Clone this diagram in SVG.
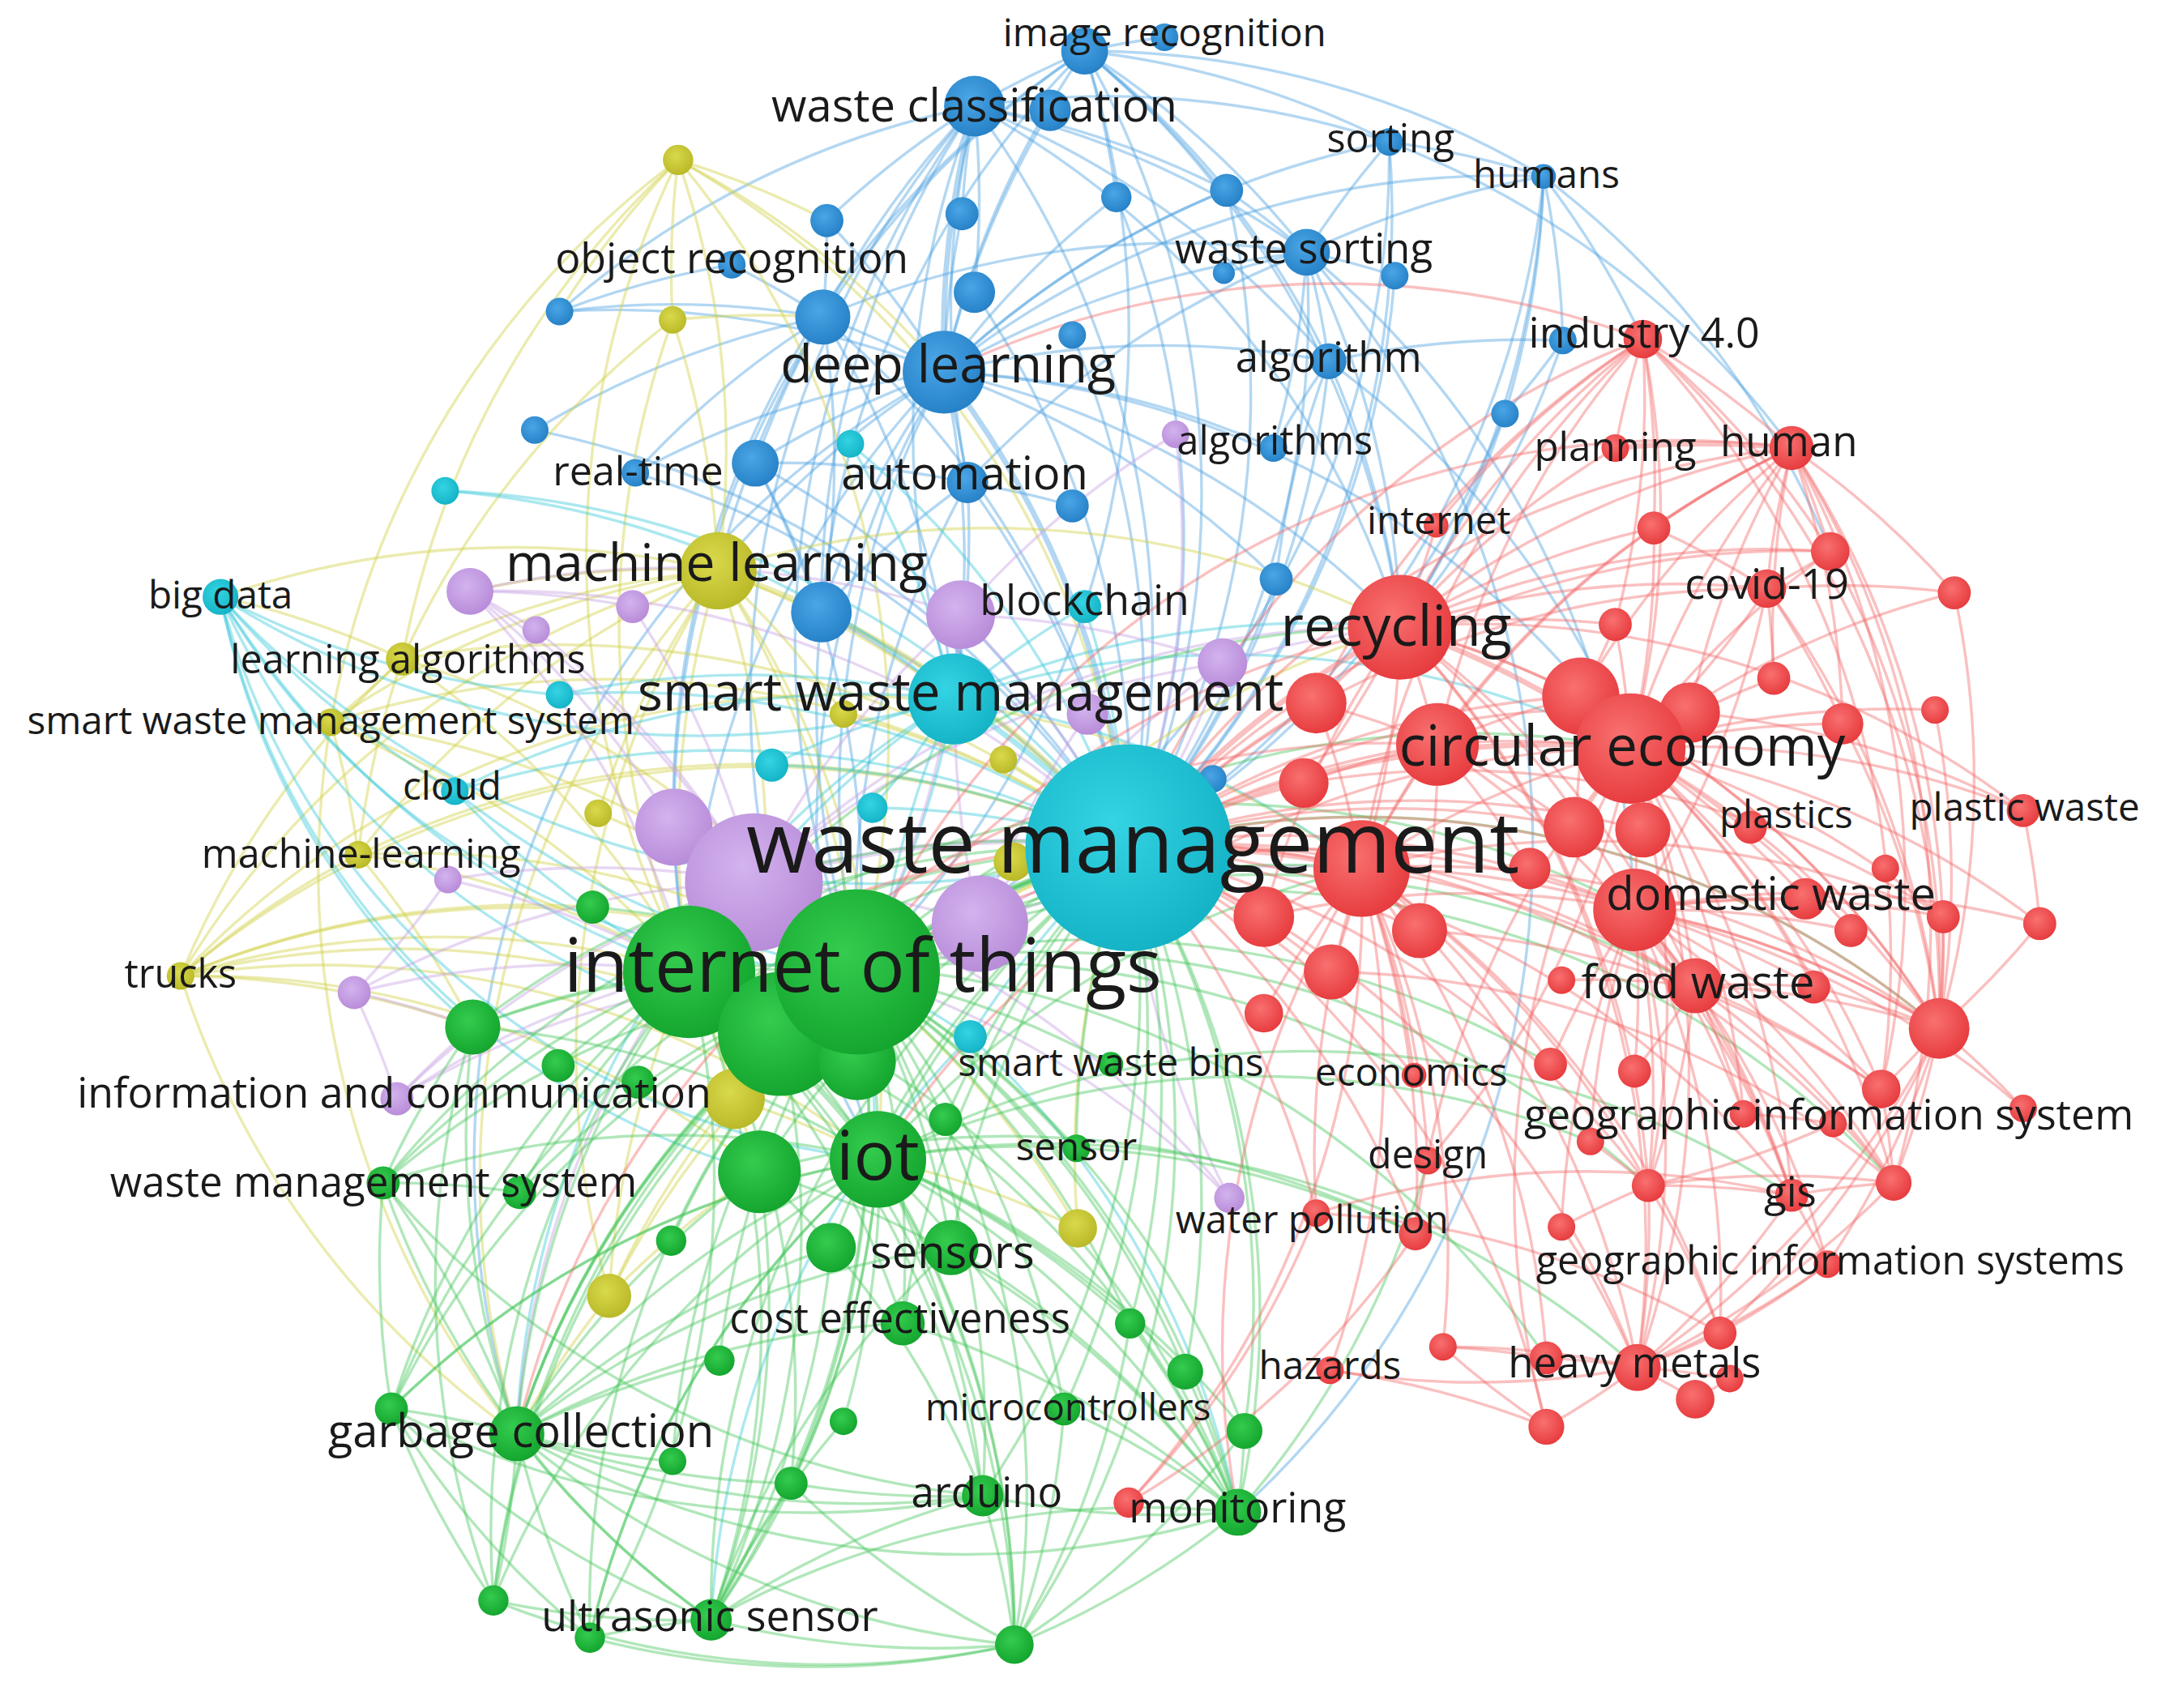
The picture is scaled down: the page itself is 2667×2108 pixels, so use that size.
<svg xmlns="http://www.w3.org/2000/svg" width="2667" height="2108" viewBox="0 0 2667 2108">
<defs>
<radialGradient id="gr" cx="42%" cy="38%" r="65%"><stop offset="0" stop-color="#f97070"/><stop offset="1" stop-color="#e63a3d"/></radialGradient>
<radialGradient id="gg" cx="42%" cy="38%" r="65%"><stop offset="0" stop-color="#34cc4f"/><stop offset="1" stop-color="#13a42d"/></radialGradient>
<radialGradient id="gb" cx="42%" cy="38%" r="65%"><stop offset="0" stop-color="#4aa6e6"/><stop offset="1" stop-color="#2580c6"/></radialGradient>
<radialGradient id="gc" cx="42%" cy="38%" r="65%"><stop offset="0" stop-color="#35d4e4"/><stop offset="1" stop-color="#13b2c5"/></radialGradient>
<radialGradient id="gp" cx="42%" cy="38%" r="65%"><stop offset="0" stop-color="#d3b3ee"/><stop offset="1" stop-color="#b78bd8"/></radialGradient>
<radialGradient id="gy" cx="42%" cy="38%" r="65%"><stop offset="0" stop-color="#d9d94c"/><stop offset="1" stop-color="#b8b827"/></radialGradient>
</defs>
<style>
.edges path{fill:none;stroke-width:2;stroke-opacity:.42}
.edges path.t{stroke-width:4}
.er path{stroke:#f36868}.eg path{stroke:#46c55b}.eb path{stroke:#4a9fe0}.ec path{stroke:#36c8d9}.ep path{stroke:#c69fe2}.ey path{stroke:#cfcf40}
.nr{fill:url(#gr)}.ng{fill:url(#gg)}.nb{fill:url(#gb)}.nc{fill:url(#gc)}.np{fill:url(#gp)}.ny{fill:url(#gy)}
.labels text{font-family:"Open Sans","Noto Sans","Liberation Sans",sans-serif;fill:#1a1a1a;text-anchor:middle}
</style>
<rect width="2667" height="2108" fill="#ffffff"/>
<g transform="scale(1.7009,1.7014)">
<g id="connectors" class="edges">
<g class="eb">
<path d="M685 270A650 650 0 0 1 787 37"/><path class="t" d="M685 270A650 650 0 0 1 707 77"/><path d="M685 270A650 650 0 0 1 762 80"/><path d="M685 270A650 650 0 0 1 1008 103"/><path d="M685 270A650 650 0 0 1 948 183"/><path d="M685 270A650 650 0 0 1 890 138"/><path d="M685 270A650 650 0 0 1 810 143"/><path d="M685 270A650 650 0 0 1 698 155"/><path d="M600 160A650 650 0 0 1 685 270"/><path d="M597 230A650 650 0 0 1 685 270"/><path d="M685 270A650 650 0 0 1 964 262"/><path d="M685 270A650 650 0 0 1 924 325"/><path d="M406 226A650 650 0 0 1 685 270"/><path d="M461 343A650 650 0 0 1 685 270"/><path d="M548 336A650 650 0 0 1 685 270"/><path d="M685 270A650 650 0 0 1 702 350"/><path d="M596 444A650 650 0 0 1 685 270"/><path d="M685 270A650 650 0 0 1 926 420"/><path class="t" d="M685 270A650 650 0 0 1 819 615"/><path d="M685 270A650 650 0 0 1 692 507"/><path d="M622 705A650 650 0 0 1 685 270"/><path d="M685 270A650 650 0 0 1 1120 128"/><path d="M685 270A650 650 0 0 1 1016 455"/><path d="M521 414A650 650 0 0 1 685 270"/><path d="M637 841A650 650 0 0 1 685 270"/><path d="M375 1040A650 650 0 0 1 685 270"/><path d="M685 270A650 650 0 0 0 500 705"/><path d="M685 270A650 650 0 0 1 1183 543"/>
<path d="M707 77A650 650 0 0 1 787 37"/><path d="M707 77A650 650 0 0 1 948 183"/><path d="M600 160A650 650 0 0 1 707 77"/><path d="M597 230A650 650 0 0 1 707 77"/><path d="M698 155A650 650 0 0 1 707 77"/><path d="M707 77A650 650 0 0 1 890 138"/><path d="M707 77A650 650 0 0 1 964 262"/><path d="M596 444A650 650 0 0 1 707 77"/><path d="M702 350A650 650 0 0 1 707 77"/><path d="M707 77A650 650 0 0 1 819 615"/><path d="M692 507A650 650 0 0 1 707 77"/><path d="M707 77A650 650 0 0 1 1008 103"/><path d="M707 77A650 650 0 0 1 707 212"/><path d="M622 705A650 650 0 0 1 707 77"/><path d="M637 841A650 650 0 0 1 707 77"/><path d="M707 77A650 650 0 0 1 1016 455"/><path d="M406 226A650 650 0 0 1 707 77"/>
<path d="M787 37A650 650 0 0 1 948 183"/><path d="M787 37A650 650 0 0 1 890 138"/><path d="M787 37A650 650 0 0 1 964 262"/><path d="M597 230A650 650 0 0 1 787 37"/><path d="M596 444A650 650 0 0 1 787 37"/><path d="M787 37A650 650 0 0 1 819 615"/><path d="M787 37A650 650 0 0 1 1120 128"/><path d="M787 37A650 650 0 0 1 1008 103"/><path d="M787 37A650 650 0 0 1 810 143"/><path d="M500 705A650 650 0 0 1 787 37"/><path d="M787 37A650 650 0 0 1 845 27"/><path d="M787 37A650 650 0 0 1 1016 455"/>
<path d="M948 183A650 650 0 0 1 1008 103"/><path d="M948 183A650 650 0 0 1 1012 200"/><path d="M888 198A650 650 0 0 1 948 183"/><path d="M948 183A650 650 0 0 1 964 262"/><path d="M890 138A650 650 0 0 1 948 183"/><path d="M948 183A650 650 0 0 1 1120 128"/><path d="M597 230A650 650 0 0 1 948 183"/><path d="M702 350A650 650 0 0 1 948 183"/><path d="M948 183A650 650 0 0 1 819 615"/><path d="M948 183A650 650 0 0 1 1016 455"/><path d="M948 183A650 650 0 0 1 924 325"/><path d="M948 183A650 650 0 0 1 1186 660"/>
<path d="M406 226A650 650 0 0 1 597 230"/><path d="M406 226A650 650 0 0 1 531 192"/><path d="M531 192A650 650 0 0 1 597 230"/><path d="M388 312A650 650 0 0 1 597 230"/><path d="M461 343A650 650 0 0 1 597 230"/><path d="M548 336A650 650 0 0 1 597 230"/><path d="M597 230A650 650 0 0 1 596 444"/><path d="M597 230A650 650 0 0 1 819 615"/><path d="M597 230A650 650 0 0 1 692 507"/><path d="M600 160A650 650 0 0 1 597 230"/><path d="M521 414A650 650 0 0 1 597 230"/><path d="M500 705A650 650 0 0 1 597 230"/>
<path d="M964 262A650 650 0 0 1 1134 247"/><path d="M924 325A650 650 0 0 1 964 262"/><path d="M964 262A650 650 0 0 1 819 615"/><path d="M926 420A650 650 0 0 1 964 262"/><path d="M964 262A650 650 0 0 1 1016 455"/><path d="M964 262A650 650 0 0 1 1183 543"/>
<path d="M596 444A650 650 0 0 1 819 615"/><path d="M596 444A650 650 0 0 1 692 507"/><path d="M622 705A650 650 0 0 1 596 444"/><path d="M596 444A650 650 0 0 1 702 350"/><path d="M548 336A650 650 0 0 1 596 444"/>
<path d="M702 350A650 650 0 0 1 778 367"/><path d="M702 350A650 650 0 0 1 819 615"/><path d="M702 350A650 650 0 0 1 692 507"/><path d="M548 336A650 650 0 0 1 702 350"/><path d="M702 350A650 650 0 0 0 622 705"/>
<path d="M1120 128A650 650 0 0 1 1134 247"/><path d="M1120 128A650 650 0 0 1 1092 300"/><path d="M1120 128A650 650 0 0 1 1192 246"/><path d="M1008 103A650 650 0 0 1 1120 128"/><path d="M1120 128A650 650 0 0 1 1328 400"/><path d="M1120 128A650 650 0 0 1 1016 455"/>
<path d="M1134 247A650 650 0 0 1 1092 300"/><path d="M1092 300A650 650 0 0 1 819 615"/><path d="M1092 300A650 650 0 0 1 1016 455"/><path d="M1134 247A650 650 0 0 1 1016 455"/>
<path d="M1008 103A650 650 0 0 1 1300 325"/><path d="M810 143A650 650 0 0 1 819 615"/><path d="M890 138A650 650 0 0 1 819 615"/><path d="M1008 103A650 650 0 0 1 819 615"/><path d="M1012 200A650 650 0 0 1 819 615"/><path d="M926 420A650 650 0 0 1 819 615"/><path d="M778 243A650 650 0 0 1 819 615"/><path d="M707 212A650 650 0 0 1 819 615"/><path d="M1120 128A650 650 0 0 1 819 615"/><path d="M948 183A650 650 0 0 1 898 1097"/><path d="M787 37A650 650 0 0 1 622 705"/><path d="M1008 103A650 650 0 0 1 622 705"/><path d="M388 312A650 650 0 0 1 819 615"/><path d="M461 343A650 650 0 0 1 819 615"/><path d="M548 336A650 650 0 0 1 819 615"/><path d="M548 336A650 650 0 0 1 622 705"/>
</g>
<g class="ey">
<path d="M488 232A650 650 0 0 1 492 116"/><path d="M492 116A650 650 0 0 1 521 414"/><path d="M292 478A650 650 0 0 1 492 116"/><path d="M240 524A650 650 0 0 1 492 116"/><path d="M492 116A650 650 0 0 1 600 160"/><path d="M492 116A650 650 0 0 1 685 270"/><path d="M492 116A650 650 0 0 1 819 615"/><path d="M500 705A650 650 0 0 1 492 116"/><path d="M406 226A650 650 0 0 1 492 116"/><path d="M492 116A650 650 0 0 1 622 705"/><path d="M488 232A650 650 0 0 1 521 414"/><path d="M292 478A650 650 0 0 1 488 232"/><path d="M488 232A650 650 0 0 1 597 230"/><path d="M500 705A650 650 0 0 1 488 232"/>
<path d="M292 478A650 650 0 0 1 521 414"/><path d="M240 524A650 650 0 0 1 521 414"/><path d="M521 414A650 650 0 0 1 612 518"/><path d="M434 590A650 650 0 0 1 521 414"/><path d="M260 620A650 650 0 0 1 521 414"/><path d="M131 708A650 650 0 0 1 521 414"/><path d="M521 414A650 650 0 0 1 533 797"/><path class="t" d="M521 414A650 650 0 0 1 819 615"/><path d="M521 414A650 650 0 0 1 622 705"/><path d="M500 705A650 650 0 0 1 521 414"/><path d="M341 429A650 650 0 0 1 521 414"/><path d="M160 433A650 650 0 0 1 521 414"/><path d="M375 1040A650 650 0 0 1 521 414"/><path d="M442 940A650 650 0 0 1 521 414"/><path d="M521 414A650 650 0 0 1 692 507"/><path d="M521 414A650 650 0 0 1 637 841"/><path d="M521 414A650 650 0 0 1 1016 455"/>
<path d="M292 478A650 650 0 0 1 240 524"/><path d="M160 433A650 650 0 0 1 292 478"/><path d="M260 620A650 650 0 0 1 292 478"/><path d="M292 478A650 650 0 0 1 500 705"/><path d="M292 478A650 650 0 0 1 819 615"/><path d="M131 708A650 650 0 0 1 292 478"/><path d="M292 478A650 650 0 0 1 622 705"/>
<path d="M240 524A650 650 0 0 1 260 620"/><path d="M240 524A650 650 0 0 1 500 705"/><path d="M240 524A650 650 0 0 1 819 615"/><path d="M240 524A650 650 0 0 1 330 574"/><path d="M240 524A650 650 0 0 0 375 1040"/><path d="M240 524A650 650 0 0 1 622 705"/>
<path d="M131 708A650 650 0 0 1 260 620"/><path d="M260 620A650 650 0 0 1 500 705"/><path d="M260 620A650 650 0 0 1 819 615"/><path d="M260 620A650 650 0 0 1 343 745"/><path d="M260 620A650 650 0 0 1 622 705"/>
<path d="M131 708A650 650 0 0 1 500 705"/><path d="M131 708A650 650 0 0 1 622 705"/><path d="M131 708A650 650 0 0 1 819 615"/><path d="M131 708A650 650 0 0 1 343 745"/><path d="M131 708A650 650 0 0 1 566 750"/><path d="M131 708A650 650 0 0 0 375 1040"/><path d="M131 708A650 650 0 0 1 551 850"/><path d="M131 708A650 650 0 0 1 637 841"/><path d="M131 708A650 650 0 0 1 430 658"/><path d="M131 708A650 650 0 0 1 988 630"/>
<path d="M533 797A650 650 0 0 1 819 615"/><path d="M533 797A650 650 0 0 1 637 841"/><path d="M500 705A650 650 0 0 1 533 797"/><path d="M533 797A650 650 0 0 1 551 850"/>
<path d="M442 940A650 650 0 0 1 819 615"/><path d="M442 940A650 650 0 0 1 500 705"/><path d="M442 940A650 650 0 0 1 551 850"/><path d="M375 1040A650 650 0 0 1 442 940"/><path d="M442 940A650 650 0 0 1 622 705"/>
<path d="M782 891A650 650 0 0 1 819 615"/><path d="M622 705A650 650 0 0 1 782 891"/><path d="M637 841A650 650 0 0 1 782 891"/>
<path d="M612 518A650 650 0 0 1 819 615"/><path d="M728 551A650 650 0 0 1 819 615"/><path d="M434 590A650 650 0 0 1 622 705"/><path d="M735 625A650 650 0 0 1 1016 455"/>
</g>
<g class="ec">
<path d="M160 433A650 650 0 0 0 330 574"/><path d="M160 433A650 650 0 0 0 500 705"/><path d="M160 433A550 550 0 0 0 622 705"/><path d="M160 433A550 550 0 0 0 637 841"/><path d="M160 433A550 550 0 0 0 566 750"/><path d="M160 433A550 550 0 0 0 551 850"/><path d="M160 433A650 650 0 0 0 819 615"/><path d="M160 433A650 650 0 0 0 692 507"/><path d="M160 433A550 550 0 0 0 343 745"/><path d="M160 433A650 650 0 0 0 406 504"/>
<path d="M330 574A650 650 0 0 1 819 615"/><path d="M330 574A650 650 0 0 0 500 705"/><path d="M330 574A650 650 0 0 1 692 507"/><path d="M330 574A650 650 0 0 0 622 705"/><path d="M323 356A650 650 0 0 1 692 507"/><path d="M323 356A650 650 0 0 1 819 615"/>
<path class="t" d="M692 507A650 650 0 0 1 819 615"/><path d="M692 507A650 650 0 0 1 622 705"/><path d="M500 705A650 650 0 0 1 692 507"/><path d="M692 507A650 650 0 0 1 787 440"/><path d="M560 555A650 650 0 0 1 692 507"/><path d="M692 507A650 650 0 0 1 633 586"/><path d="M692 507A650 650 0 0 1 697 446"/><path d="M692 507A650 650 0 0 1 1016 455"/><path d="M692 507A650 650 0 0 1 1183 543"/><path d="M637 841A650 650 0 0 1 692 507"/><path d="M406 504A650 650 0 0 1 692 507"/><path d="M617 322A650 650 0 0 1 692 507"/><path d="M692 507A650 650 0 0 1 988 630"/><path d="M375 1040A650 650 0 0 1 692 507"/>
<path d="M787 440A650 650 0 0 1 819 615"/><path d="M406 504A650 650 0 0 1 819 615"/><path d="M560 555A650 650 0 0 1 819 615"/><path d="M633 586A650 650 0 0 1 819 615"/><path d="M617 322A650 650 0 0 1 819 615"/><path d="M704 752A650 650 0 0 1 819 615"/><path d="M622 705A650 650 0 0 1 704 752"/><path d="M704 752A650 650 0 0 0 516 1175"/><path d="M704 752A650 650 0 0 1 898 1097"/>
</g>
<g class="ep">
<path d="M341 429A650 650 0 0 1 459 440"/><path d="M341 429A650 650 0 0 1 389 457"/><path d="M341 429A650 650 0 0 1 489 600"/><path d="M341 429A650 650 0 0 1 547 640"/><path d="M341 429A650 650 0 0 1 500 705"/><path d="M341 429A650 650 0 0 1 819 615"/><path d="M341 429A650 650 0 0 1 697 446"/>
<path d="M389 457A650 650 0 0 1 547 640"/><path d="M459 440A650 650 0 0 1 547 640"/><path d="M547 640A650 650 0 0 1 711 670"/><path d="M489 600A650 650 0 0 1 547 640"/><path class="t" d="M547 640A650 650 0 0 1 819 615"/><path d="M547 640A650 650 0 0 1 697 446"/><path d="M547 640A650 650 0 0 1 887 481"/><path d="M547 640A650 650 0 0 1 622 705"/><path d="M257 720A650 650 0 0 1 547 640"/><path d="M288 797A650 650 0 0 1 547 640"/><path d="M325 638A650 650 0 0 1 547 640"/><path d="M547 640A650 650 0 0 1 892 869"/><path d="M375 1040A650 650 0 0 1 547 640"/><path d="M547 640A650 650 0 0 1 1016 455"/>
<path d="M711 670A650 650 0 0 1 819 615"/><path d="M711 670A650 650 0 0 1 887 481"/><path d="M711 670A650 650 0 0 1 789 518"/><path d="M711 670A650 650 0 0 1 697 446"/><path d="M711 670A650 650 0 0 1 988 630"/>
<path d="M257 720A650 650 0 0 1 500 705"/><path d="M257 720A650 650 0 0 1 343 745"/><path d="M257 720A650 650 0 0 1 288 797"/><path d="M288 797A650 650 0 0 1 500 705"/><path d="M288 797A650 650 0 0 1 343 745"/><path d="M288 797A650 650 0 0 1 622 705"/>
<path d="M892 869A650 650 0 0 1 819 615"/><path d="M622 705A650 650 0 0 1 892 869"/><path d="M853 315A650 650 0 0 1 819 615"/><path d="M697 446A650 650 0 0 1 853 315"/><path d="M887 481A650 650 0 0 1 1016 455"/><path d="M887 481A650 650 0 0 1 819 615"/><path d="M697 446A650 650 0 0 1 887 481"/><path d="M697 446A650 650 0 0 1 819 615"/><path d="M325 638A650 650 0 0 1 500 705"/><path d="M489 600A650 650 0 0 1 622 705"/><path d="M697 446A650 650 0 0 1 622 705"/><path d="M257 720A650 650 0 0 0 325 638"/>
</g>
<g class="eg">
<path d="M622 705A650 650 0 0 0 375 1040"/><path d="M622 705A650 650 0 0 1 516 1175"/><path d="M622 705A650 650 0 0 1 713 1085"/><path d="M622 705A650 650 0 0 1 898 1097"/><path d="M622 705A650 650 0 0 1 655 960"/><path d="M622 705A650 650 0 0 1 690 905"/><path d="M622 705A650 650 0 0 1 772 1022"/><path d="M622 705A650 650 0 0 1 903 1038"/><path d="M622 705A650 650 0 0 1 860 995"/><path d="M622 705A650 650 0 0 1 820 960"/><path d="M622 705A650 650 0 0 0 278 858"/><path d="M622 705A650 650 0 0 0 377 865"/><path d="M622 705A650 650 0 0 0 343 745"/><path d="M622 705A650 650 0 0 0 358 1161"/><path d="M622 705A650 650 0 0 0 428 1188"/><path d="M622 705A650 650 0 0 1 736 1193"/><path d="M622 705A650 650 0 0 0 284 1022"/><path d="M622 705A650 650 0 0 0 488 1060"/><path d="M622 705A650 650 0 0 1 574 1076"/><path d="M622 705A650 650 0 0 0 522 987"/><path d="M622 705A650 650 0 0 1 612 1031"/><path d="M622 705A650 650 0 0 0 487 900"/><path d="M622 705A650 650 0 0 1 781 833"/><path class="t" d="M622 705A650 650 0 0 1 819 615"/><path d="M622 705A650 650 0 0 1 806 772"/><path d="M622 705A650 650 0 0 0 430 658"/>
<path d="M500 705A650 650 0 0 0 375 1040"/><path d="M500 705A650 650 0 0 0 278 858"/><path d="M500 705A650 650 0 0 0 343 745"/><path d="M500 705A650 650 0 0 0 377 865"/><path d="M500 705A650 650 0 0 0 358 1161"/><path d="M500 705A650 650 0 0 1 428 1188"/><path d="M500 705A650 650 0 0 1 516 1175"/><path d="M500 705A650 650 0 0 0 284 1022"/><path class="t" d="M500 705A650 650 0 0 1 637 841"/><path d="M500 705A650 650 0 0 1 713 1085"/><path d="M500 705A650 650 0 0 1 736 1193"/><path d="M500 705A650 650 0 0 1 898 1097"/><path d="M500 705A650 650 0 0 1 655 960"/><path d="M500 705A650 650 0 0 1 819 615"/><path d="M500 705A650 650 0 0 0 405 773"/><path d="M500 705A650 650 0 0 1 574 1076"/>
<path d="M637 841A650 650 0 0 0 375 1040"/><path d="M637 841A650 650 0 0 1 516 1175"/><path d="M637 841A650 650 0 0 1 713 1085"/><path d="M637 841A650 650 0 0 1 898 1097"/><path d="M637 841A650 650 0 0 1 772 1022"/><path d="M637 841A650 650 0 0 1 903 1038"/><path d="M637 841A650 650 0 0 1 736 1193"/><path d="M637 841A650 650 0 0 0 358 1161"/><path d="M637 841A650 650 0 0 0 428 1188"/><path d="M637 841A650 650 0 0 1 860 995"/><path d="M637 841A650 650 0 0 0 284 1022"/><path d="M637 841A650 650 0 0 1 574 1076"/><path d="M637 841A650 650 0 0 1 819 615"/><path d="M637 841A650 650 0 0 0 278 858"/><path d="M637 841A650 650 0 0 1 820 960"/>
<path d="M284 1022A650 650 0 0 1 375 1040"/><path d="M375 1040A650 650 0 0 1 358 1161"/><path d="M375 1040A650 650 0 0 0 428 1188"/><path d="M375 1040A650 650 0 0 0 516 1175"/><path d="M375 1040A650 650 0 0 0 488 1060"/><path d="M375 1040A650 650 0 0 0 574 1076"/><path d="M375 1040A650 650 0 0 0 713 1085"/><path d="M375 1040A650 650 0 0 0 898 1097"/><path d="M375 1040A650 650 0 0 1 522 987"/><path d="M375 1040A650 650 0 0 0 736 1193"/><path d="M375 1040A650 650 0 0 1 819 615"/><path d="M375 1040A650 650 0 0 1 690 905"/><path d="M278 858A650 650 0 0 1 375 1040"/>
<path d="M428 1188A650 650 0 0 1 516 1175"/><path d="M358 1161A650 650 0 0 0 516 1175"/><path d="M516 1175A650 650 0 0 0 736 1193"/><path d="M516 1175A650 650 0 0 1 713 1085"/><path d="M516 1175A650 650 0 0 1 574 1076"/><path d="M516 1175A650 650 0 0 1 612 1031"/><path d="M516 1175A650 650 0 0 1 819 615"/><path d="M516 1175A650 650 0 0 1 898 1097"/>
<path d="M903 1038A650 650 0 0 1 898 1097"/><path d="M860 995A650 650 0 0 1 898 1097"/><path d="M713 1085A650 650 0 0 0 898 1097"/><path d="M772 1022A650 650 0 0 1 898 1097"/><path d="M736 1193A650 650 0 0 0 898 1097"/><path d="M820 960A650 650 0 0 1 898 1097"/><path d="M898 1097A650 650 0 0 0 819 615"/>
<path d="M713 1085A650 650 0 0 1 736 1193"/><path d="M574 1076A650 650 0 0 0 736 1193"/><path d="M428 1188A650 650 0 0 0 736 1193"/><path d="M713 1085A650 650 0 0 0 819 615"/><path d="M713 1085A650 650 0 0 1 574 1076"/><path d="M655 960A650 650 0 0 1 819 615"/><path d="M690 905A650 650 0 0 1 819 615"/><path d="M772 1022A650 650 0 0 0 819 615"/><path d="M860 995A650 650 0 0 0 819 615"/><path d="M903 1038A650 650 0 0 0 819 615"/>
<path d="M278 858A650 650 0 0 0 284 1022"/><path d="M278 858A650 650 0 0 1 377 865"/><path d="M343 745A650 650 0 0 0 278 858"/><path d="M284 1022A650 650 0 0 0 358 1161"/><path d="M284 1022A650 650 0 0 0 428 1188"/><path d="M278 858A650 650 0 0 1 819 615"/><path d="M343 745A650 650 0 0 1 819 615"/><path d="M284 1022A650 650 0 0 1 819 615"/><path d="M358 1161A650 650 0 0 1 819 615"/>
<path d="M551 850A650 650 0 0 1 819 615"/><path d="M566 750A650 650 0 0 1 819 615"/><path d="M603 905A650 650 0 0 1 819 615"/><path d="M686 812A650 650 0 0 1 819 615"/><path d="M781 833A650 650 0 0 1 819 615"/><path d="M820 960A650 650 0 0 0 819 615"/><path d="M736 1193A650 650 0 0 0 819 615"/>
<path d="M551 850A650 650 0 0 0 375 1040"/><path d="M551 850A650 650 0 0 1 516 1175"/><path d="M551 850A650 650 0 0 1 713 1085"/><path d="M551 850A650 650 0 0 1 898 1097"/><path d="M566 750A650 650 0 0 0 375 1040"/><path d="M566 750A650 650 0 0 1 516 1175"/><path d="M566 750A650 650 0 0 1 736 1193"/><path d="M566 750A650 650 0 0 1 898 1097"/><path d="M603 905A650 650 0 0 0 375 1040"/><path d="M603 905A650 650 0 0 1 516 1175"/><path d="M690 905A650 650 0 0 1 898 1097"/><path d="M690 905A650 650 0 0 0 516 1175"/><path d="M655 960A650 650 0 0 1 898 1097"/><path d="M655 960A650 650 0 0 0 375 1040"/><path d="M343 745A650 650 0 0 0 375 1040"/><path d="M343 745A650 650 0 0 0 358 1161"/><path d="M343 745A650 650 0 0 1 637 841"/><path d="M278 858A650 650 0 0 0 516 1175"/><path d="M278 858A650 650 0 0 0 713 1085"/><path d="M284 1022A650 650 0 0 0 516 1175"/><path d="M284 1022A650 650 0 0 0 713 1085"/><path d="M284 1022A650 650 0 0 1 637 841"/><path d="M358 1161A650 650 0 0 0 736 1193"/><path d="M428 1188A650 650 0 0 1 637 841"/><path d="M736 1193A650 650 0 0 0 903 1038"/><path d="M772 1022A650 650 0 0 1 736 1193"/><path d="M820 960A650 650 0 0 1 736 1193"/>
<path d="M622 705A650 650 0 0 1 1407 746"/><path d="M637 841A650 650 0 0 1 1188 992"/><path d="M622 705A650 650 0 0 1 1183 543"/><path d="M500 705A650 650 0 0 1 1016 455"/><path d="M622 705A650 650 0 0 1 988 630"/><path d="M637 841A650 650 0 0 1 988 630"/><path d="M622 705A650 650 0 0 1 1026 780"/><path d="M637 841A650 650 0 0 1 1027 895"/><path d="M622 705A650 650 0 0 1 1196 860"/><path d="M898 1097A650 650 0 0 0 1036 842"/><path d="M622 705A650 650 0 0 1 1125 772"/><path d="M622 705A650 650 0 0 1 1230 715"/><path d="M500 705A650 650 0 0 1 1186 660"/><path d="M637 841A650 650 0 0 1 1300 867"/><path d="M637 841A650 650 0 0 1 1154 828"/><path d="M622 705A650 650 0 0 1 1374 858"/><path d="M551 850A650 650 0 0 1 1027 895"/><path d="M500 705A650 650 0 0 1 1122 985"/>
</g>
<g class="er">
<path d="M1183 543A650 650 0 0 0 1192 246"/><path d="M1183 543A650 650 0 0 1 1300 325"/><path d="M1200 383A650 650 0 0 1 1183 543"/><path d="M1183 543A650 650 0 0 1 1328 400"/><path d="M1282 427A650 650 0 0 1 1183 543"/><path d="M1183 543A650 650 0 0 1 1418 430"/><path class="t" d="M1016 455A650 650 0 0 1 1183 543"/><path d="M1147 505A650 650 0 0 1 1183 543"/><path d="M1183 543A650 650 0 0 1 1226 517"/><path d="M1043 540A650 650 0 0 1 1183 543"/><path d="M1183 543A650 650 0 0 1 1337 525"/><path d="M1183 543A650 650 0 0 1 1404 515"/><path d="M988 630A650 650 0 0 1 1183 543"/><path d="M1142 600A650 650 0 0 1 1183 543"/><path d="M1183 543A650 650 0 0 1 1186 660"/><path d="M1183 543A650 650 0 0 1 1310 652"/><path d="M1183 543A650 650 0 0 1 1343 675"/><path d="M1183 543A650 650 0 0 1 1410 665"/><path d="M1183 543A650 650 0 0 1 1480 670"/><path d="M1183 543A650 650 0 0 1 1230 715"/><path d="M1183 543A650 650 0 0 1 1316 716"/><path d="M1183 543A650 650 0 0 1 1407 746"/><path d="M1183 543A650 650 0 0 1 1365 790"/><path d="M1183 543A650 650 0 0 1 1196 860"/><path d="M1183 543A650 650 0 0 1 1300 867"/><path d="M1183 543A650 650 0 0 1 1374 858"/><path d="M1183 543A650 650 0 0 1 1188 992"/><path d="M1183 543A650 650 0 0 1 1468 588"/><path d="M1172 453A650 650 0 0 1 1183 543"/><path d="M1183 543A650 650 0 0 1 1287 492"/><path class="t" d="M819 615A650 650 0 0 1 1183 543"/><path d="M1183 543A650 650 0 0 1 1265 808"/><path d="M1183 543A650 650 0 0 0 1027 895"/><path d="M1183 543A650 650 0 0 0 1122 1035"/><path d="M1183 543A650 650 0 0 0 637 841"/>
<path d="M1016 455A650 650 0 0 1 1192 246"/><path d="M1016 455A650 650 0 0 1 1172 325"/><path d="M1016 455A650 650 0 0 1 1300 325"/><path d="M1042 381A650 650 0 0 1 1016 455"/><path d="M1016 455A650 650 0 0 1 1147 505"/><path d="M955 510A650 650 0 0 1 1016 455"/><path d="M1016 455A650 650 0 0 1 1043 540"/><path d="M1016 455A650 650 0 0 1 988 630"/><path d="M1016 455A650 650 0 0 1 1186 660"/><path d="M1016 455A650 650 0 0 1 1230 715"/><path d="M1016 455A650 650 0 0 1 946 568"/><path d="M917 665A650 650 0 0 1 1016 455"/><path d="M1016 455A650 650 0 0 1 1407 746"/><path d="M1016 455A650 650 0 0 1 1188 992"/><path d="M1016 455A650 650 0 0 1 1196 860"/><path d="M1016 455A650 650 0 0 1 1172 453"/><path d="M1016 455A650 650 0 0 1 1200 383"/><path class="t" d="M819 615A650 650 0 0 1 1016 455"/><path d="M1016 455A650 650 0 0 1 1282 427"/><path d="M1016 455A650 650 0 0 1 1328 400"/><path d="M1016 455A650 650 0 0 1 1468 588"/><path d="M1016 455A650 650 0 0 0 622 705"/>
<path d="M988 630A650 650 0 0 0 917 665"/><path d="M988 630A650 650 0 0 1 966 705"/><path d="M988 630A650 650 0 0 1 1030 675"/><path d="M988 630A650 650 0 0 0 917 735"/><path d="M988 630A650 650 0 0 1 1230 715"/><path d="M988 630A650 650 0 0 1 1186 660"/><path d="M988 630A650 650 0 0 1 1407 746"/><path d="M988 630A650 650 0 0 1 1188 992"/><path d="M988 630A650 650 0 0 1 1196 860"/><path d="M988 630A650 650 0 0 1 1026 780"/><path d="M988 630A650 650 0 0 1 1027 895"/><path d="M988 630A650 650 0 0 0 955 880"/><path d="M988 630A650 650 0 0 1 1125 772"/><path d="M988 630A650 650 0 0 1 1043 540"/><path d="M955 510A650 650 0 0 1 988 630"/><path d="M988 630A650 650 0 0 1 1300 325"/><path d="M988 630A650 650 0 0 1 1192 246"/><path d="M988 630A650 650 0 0 1 1410 665"/><path class="t" d="M819 615A650 650 0 0 1 988 630"/><path d="M988 630A650 650 0 0 1 1047 977"/><path d="M988 630A650 650 0 0 1 1122 985"/><path d="M988 630A650 650 0 0 1 1248 967"/><path d="M988 630A650 650 0 0 1 965 994"/><path d="M988 630A650 650 0 0 0 500 705"/><path d="M988 630A650 650 0 0 0 898 1097"/>
<path d="M1186 660A650 650 0 0 1 1230 715"/><path d="M1186 660A650 650 0 0 1 1407 746"/><path d="M1186 660A650 650 0 0 1 1365 790"/><path d="M1186 660A650 650 0 0 1 1186 777"/><path d="M1186 660A650 650 0 0 1 1196 860"/><path d="M1186 660A650 650 0 0 1 1300 867"/><path d="M1186 660A650 650 0 0 1 1374 858"/><path d="M1186 660A650 650 0 0 1 1316 716"/><path d="M1186 660A650 650 0 0 1 1343 675"/><path d="M1186 660A650 650 0 0 1 1310 652"/><path d="M1186 660A650 650 0 0 1 1188 992"/><path d="M1186 660A650 650 0 0 1 1248 967"/><path d="M1186 660A650 650 0 0 1 1326 917"/><path d="M1186 660A650 650 0 0 0 1154 828"/><path d="M1186 660A650 650 0 0 1 1265 808"/><path d="M1186 660A650 650 0 0 1 1410 665"/><path d="M1186 660A650 650 0 0 1 1480 670"/><path d="M1186 660A650 650 0 0 0 1133 890"/><path d="M819 615A650 650 0 0 1 1186 660"/><path d="M1186 660A650 650 0 0 0 1125 772"/><path d="M1468 804A650 650 0 0 0 1186 660"/><path d="M1186 660A650 650 0 0 0 622 705"/>
<path d="M1192 246A650 650 0 0 1 1300 325"/><path class="t" d="M1172 325A650 650 0 0 1 1300 325"/><path d="M1300 325A650 650 0 0 1 1328 400"/><path d="M1300 325A650 650 0 0 0 1282 427"/><path d="M1300 325A650 650 0 0 1 1418 430"/><path d="M1300 325A650 650 0 0 0 1287 492"/><path d="M1300 325A650 650 0 0 1 1337 525"/><path d="M1300 325A650 650 0 0 1 1407 746"/><path d="M1300 325A650 650 0 0 0 1043 540"/><path d="M1300 325A650 650 0 0 0 1226 517"/><path d="M1300 325A650 650 0 0 1 1374 858"/><path d="M1300 325A650 650 0 0 1 1365 790"/><path d="M1300 325A650 650 0 0 0 1147 505"/><path d="M1300 325A650 650 0 0 0 1200 383"/><path d="M1300 325A650 650 0 0 0 622 705"/>
<path d="M1172 325A650 650 0 0 1 1192 246"/><path d="M1042 381A650 650 0 0 1 1192 246"/><path d="M1192 246A650 650 0 0 1 1200 383"/><path d="M955 510A650 650 0 0 1 1192 246"/><path d="M1043 540A650 650 0 0 1 1192 246"/><path d="M1192 246A650 650 0 0 1 1172 453"/><path d="M1192 246A650 650 0 0 1 1365 790"/><path d="M1192 246A650 650 0 0 1 1328 400"/><path d="M1192 246A650 650 0 0 1 1407 746"/><path d="M819 615A650 650 0 0 1 1192 246"/><path d="M1192 246A650 650 0 0 0 685 270"/>
<path d="M1407 746A650 650 0 0 1 1365 790"/><path d="M1407 746A650 650 0 0 1 1374 858"/><path d="M1410 665A650 650 0 0 1 1407 746"/><path d="M1480 670A650 650 0 0 1 1407 746"/><path d="M1316 716A650 650 0 0 1 1407 746"/><path d="M1407 746A650 650 0 0 1 1326 917"/><path d="M1337 525A650 650 0 0 1 1407 746"/><path d="M1404 515A650 650 0 0 1 1407 746"/><path d="M1418 430A650 650 0 0 1 1407 746"/><path d="M1328 400A650 650 0 0 1 1407 746"/><path d="M1407 746A650 650 0 0 1 1188 992"/><path d="M1407 746A650 650 0 0 1 1248 967"/><path d="M1230 715A650 650 0 0 1 1407 746"/><path d="M1468 804A650 650 0 0 0 1407 746"/><path d="M917 665A650 650 0 0 1 1407 746"/><path d="M1147 505A650 650 0 0 1 1407 746"/>
<path d="M1188 992A650 650 0 0 1 1230 1015"/><path d="M1188 992A650 650 0 0 1 1255 1000"/><path d="M1248 967A650 650 0 0 1 1188 992"/><path d="M1122 985A650 650 0 0 1 1188 992"/><path d="M1122 1035A650 650 0 0 0 1188 992"/><path d="M1047 977A650 650 0 0 1 1188 992"/><path d="M1196 860A650 650 0 0 1 1188 992"/><path d="M1133 890A650 650 0 0 1 1188 992"/><path d="M1188 992A650 650 0 0 0 1326 917"/><path d="M1188 992A650 650 0 0 0 1374 858"/><path d="M1188 992A650 650 0 0 0 1300 867"/><path d="M819 615A650 650 0 0 1 1188 992"/><path d="M965 994A650 650 0 0 1 1122 1035"/><path d="M965 994A650 650 0 0 0 1188 992"/>
<path d="M1230 715A650 650 0 0 1 1316 716"/><path d="M1230 715A650 650 0 0 1 1186 777"/><path d="M1230 715A650 650 0 0 1 1265 808"/><path d="M1230 715A650 650 0 0 1 1196 860"/><path d="M1230 715A650 650 0 0 1 1365 790"/><path d="M1230 715A650 650 0 0 1 1300 867"/><path d="M1230 715A650 650 0 0 1 1374 858"/><path d="M1230 715A650 650 0 0 0 1133 711"/><path d="M819 615A650 650 0 0 1 1230 715"/>
<path d="M1043 540A650 650 0 0 1 1147 505"/><path d="M955 510A650 650 0 0 1 1043 540"/><path d="M946 568A650 650 0 0 1 1043 540"/><path d="M1043 540A650 650 0 0 1 1142 600"/><path d="M1043 540A650 650 0 0 1 1110 630"/><path d="M1043 540A650 650 0 0 1 1030 675"/><path d="M1147 505A650 650 0 0 1 1226 517"/><path d="M1147 505A650 650 0 0 1 1142 600"/><path d="M1147 505A650 650 0 0 1 1192 602"/><path d="M1172 453A650 650 0 0 1 1147 505"/><path d="M819 615A650 650 0 0 1 1043 540"/><path d="M819 615A650 650 0 0 1 1147 505"/><path d="M1043 540A650 650 0 0 1 1300 867"/><path d="M946 568A650 650 0 0 1 1410 665"/><path d="M1030 675A650 650 0 0 1 1365 790"/><path d="M966 705A650 650 0 0 1 1374 858"/><path d="M1043 540A650 650 0 0 0 375 1040"/>
<path d="M1328 400A650 650 0 0 1 1282 427"/><path d="M1200 383A650 650 0 0 1 1282 427"/><path d="M1282 427A650 650 0 0 1 1287 492"/><path d="M1282 427A650 650 0 0 1 1418 430"/><path d="M1282 427A650 650 0 0 1 1337 525"/><path d="M1282 427A650 650 0 0 1 1186 660"/><path d="M1282 427A650 650 0 0 1 1407 746"/>
<path d="M1196 860A650 650 0 0 1 1300 867"/><path d="M1154 828A650 650 0 0 1 1196 860"/><path d="M1196 860A650 650 0 0 0 1133 890"/><path d="M1196 860A650 650 0 0 1 1248 967"/><path d="M1196 860A650 650 0 0 1 1374 858"/><path d="M1196 860A650 650 0 0 0 1330 815"/><path d="M819 615A650 650 0 0 1 1196 860"/>
<path d="M1300 867A650 650 0 0 1 1374 858"/><path d="M1300 867A650 650 0 0 1 1326 917"/><path d="M1265 808A650 650 0 0 1 1330 815"/><path d="M1365 790A650 650 0 0 1 1374 858"/><path d="M1326 917A650 650 0 0 1 1248 967"/><path d="M1255 1000A650 650 0 0 1 1230 1015"/><path d="M1047 977A650 650 0 0 1 1122 985"/><path d="M1122 1035A650 650 0 0 1 1047 977"/><path d="M955 880A650 650 0 0 1 1300 867"/><path d="M955 880A650 650 0 0 1 1248 967"/><path d="M1036 842A650 650 0 0 0 988 630"/><path d="M1036 842A650 650 0 0 0 1183 543"/>
<path d="M819 615A650 650 0 0 1 1300 325"/><path d="M819 615A650 650 0 0 1 1282 427"/><path d="M819 615A650 650 0 0 1 1407 746"/><path d="M819 615A650 650 0 0 1 1374 858"/><path d="M819 615A650 650 0 0 1 1300 867"/><path d="M819 615A650 650 0 0 1 1122 1035"/><path d="M819 615A650 650 0 0 1 1468 588"/><path d="M819 615A650 650 0 0 1 917 665"/><path d="M819 615A650 650 0 0 1 966 705"/><path d="M819 615A650 650 0 0 1 1030 675"/><path d="M819 615A650 650 0 0 1 955 880"/><path d="M819 615A650 650 0 0 1 1027 895"/><path d="M819 615A650 650 0 0 1 1026 780"/><path d="M819 615A650 650 0 0 1 946 568"/><path d="M819 615A650 650 0 0 1 955 510"/><path d="M819 615A650 650 0 0 1 1142 600"/><path d="M819 615A650 650 0 0 1 1192 602"/><path d="M819 615A650 650 0 0 1 1328 400"/><path d="M1468 588A650 650 0 0 1 1480 670"/>
<path d="M819 1090A650 650 0 0 0 988 630"/><path d="M819 1090A650 650 0 0 0 1027 895"/><path d="M819 1090A650 650 0 0 0 955 880"/>
</g>
</g>
<g id="nodes">
<g id="n-r1"><circle class="nr" cx="1192" cy="246" r="14"/></g>
<g id="n-r2"><circle class="nr" cx="1172" cy="325" r="10"/></g>
<g id="n-r3"><circle class="nr" cx="1300" cy="325" r="16"/></g>
<g id="n-r4"><circle class="nr" cx="1042" cy="381" r="9"/></g>
<g id="n-r5"><circle class="nr" cx="1200" cy="383" r="12"/></g>
<g id="n-r6"><circle class="nr" cx="1328" cy="400" r="14"/></g>
<g id="n-r7"><circle class="nr" cx="1282" cy="427" r="14"/></g>
<g id="n-r8"><circle class="nr" cx="1418" cy="430" r="12"/></g>
<g id="n-r9"><circle class="nr" cx="1016" cy="455" r="38"/></g>
<g id="n-r10"><circle class="nr" cx="1172" cy="453" r="12"/></g>
<g id="n-r11"><circle class="nr" cx="1287" cy="492" r="12"/></g>
<g id="n-r12"><circle class="nr" cx="1147" cy="505" r="28"/></g>
<g id="n-r13"><circle class="nr" cx="1226" cy="517" r="22"/></g>
<g id="n-r14"><circle class="nr" cx="955" cy="510" r="22"/></g>
<g id="n-r15"><circle class="nr" cx="1043" cy="540" r="30"/></g>
<g id="n-r16"><circle class="nr" cx="1183" cy="543" r="40"/></g>
<g id="n-r17"><circle class="nr" cx="1337" cy="525" r="15"/></g>
<g id="n-r18"><circle class="nr" cx="1404" cy="515" r="10"/></g>
<g id="n-r19"><circle class="nr" cx="946" cy="568" r="18"/></g>
<g id="n-r20"><circle class="nr" cx="988" cy="630" r="35"/></g>
<g id="n-r21"><circle class="nr" cx="1142" cy="600" r="22"/></g>
<g id="n-r22"><circle class="nr" cx="1192" cy="602" r="20"/></g>
<g id="n-r23"><circle class="nr" cx="1110" cy="630" r="15"/></g>
<g id="n-r24"><circle class="nr" cx="917" cy="665" r="22"/></g>
<g id="n-r25"><circle class="nr" cx="966" cy="705" r="20"/></g>
<g id="n-r26"><circle class="nr" cx="1030" cy="675" r="20"/></g>
<g id="n-r27"><circle class="nr" cx="917" cy="735" r="14"/></g>
<g id="n-r28"><circle class="nr" cx="1186" cy="660" r="30"/></g>
<g id="n-r29"><circle class="nr" cx="1270" cy="600" r="12"/></g>
<g id="n-r30"><circle class="nr" cx="1310" cy="652" r="15"/></g>
<g id="n-r31"><circle class="nr" cx="1368" cy="630" r="10"/></g>
<g id="n-r32"><circle class="nr" cx="1343" cy="675" r="12"/></g>
<g id="n-r33"><circle class="nr" cx="1410" cy="665" r="12"/></g>
<g id="n-r34"><circle class="nr" cx="1480" cy="670" r="12"/></g>
<g id="n-r35"><circle class="nr" cx="1230" cy="715" r="20"/></g>
<g id="n-r36"><circle class="nr" cx="1316" cy="716" r="12"/></g>
<g id="n-r37"><circle class="nr" cx="1133" cy="711" r="10"/></g>
<g id="n-r38"><circle class="nr" cx="1407" cy="746" r="22"/></g>
<g id="n-r39"><circle class="nr" cx="1365" cy="790" r="14"/></g>
<g id="n-r40"><circle class="nr" cx="1125" cy="772" r="12"/></g>
<g id="n-r41"><circle class="nr" cx="1186" cy="777" r="12"/></g>
<g id="n-r42"><circle class="nr" cx="1026" cy="780" r="9"/></g>
<g id="n-r43"><circle class="nr" cx="1154" cy="828" r="10"/></g>
<g id="n-r44"><circle class="nr" cx="1196" cy="860" r="12"/></g>
<g id="n-r45"><circle class="nr" cx="1265" cy="808" r="10"/></g>
<g id="n-r46"><circle class="nr" cx="1300" cy="867" r="12"/></g>
<g id="n-r47"><circle class="nr" cx="1374" cy="858" r="13"/></g>
<g id="n-r48"><circle class="nr" cx="1330" cy="815" r="10"/></g>
<g id="n-r49"><circle class="nr" cx="1027" cy="895" r="12"/></g>
<g id="n-r50"><circle class="nr" cx="1133" cy="890" r="10"/></g>
<g id="n-r51"><circle class="nr" cx="1326" cy="917" r="10"/></g>
<g id="n-r52"><circle class="nr" cx="1248" cy="967" r="12"/></g>
<g id="n-r53"><circle class="nr" cx="1188" cy="992" r="17"/></g>
<g id="n-r54"><circle class="nr" cx="1230" cy="1015" r="14"/></g>
<g id="n-r55"><circle class="nr" cx="1255" cy="1000" r="10"/></g>
<g id="n-r56"><circle class="nr" cx="1122" cy="985" r="12"/></g>
<g id="n-r57"><circle class="nr" cx="1047" cy="977" r="10"/></g>
<g id="n-r58"><circle class="nr" cx="1122" cy="1035" r="13"/></g>
<g id="n-r59"><circle class="nr" cx="955" cy="880" r="10"/></g>
<g id="n-r60"><circle class="nr" cx="1468" cy="588" r="12"/></g>
<g id="n-r61"><circle class="nr" cx="819" cy="1090" r="11"/></g>
<g id="n-r62"><circle class="nr" cx="1468" cy="804" r="10"/></g>
<g id="n-r63"><circle class="nr" cx="1036" cy="842" r="10"/></g>
<g id="n-r64"><circle class="nr" cx="965" cy="994" r="10"/></g>
<g id="n-b1"><circle class="nb" cx="787" cy="37" r="17"/></g>
<g id="n-b2"><circle class="nb" cx="845" cy="27" r="10"/></g>
<g id="n-b3"><circle class="nb" cx="707" cy="77" r="22"/></g>
<g id="n-b4"><circle class="nb" cx="762" cy="80" r="15"/></g>
<g id="n-b5"><circle class="nb" cx="1008" cy="103" r="10"/></g>
<g id="n-b6"><circle class="nb" cx="1120" cy="128" r="9"/></g>
<g id="n-b7"><circle class="nb" cx="948" cy="183" r="17"/></g>
<g id="n-b8"><circle class="nb" cx="1012" cy="200" r="10"/></g>
<g id="n-b9"><circle class="nb" cx="888" cy="198" r="8"/></g>
<g id="n-b10"><circle class="nb" cx="890" cy="138" r="12"/></g>
<g id="n-b11"><circle class="nb" cx="810" cy="143" r="11"/></g>
<g id="n-b12"><circle class="nb" cx="698" cy="155" r="12"/></g>
<g id="n-b13"><circle class="nb" cx="600" cy="160" r="12"/></g>
<g id="n-b31"><circle class="nb" cx="531" cy="192" r="10"/></g>
<g id="n-b14"><circle class="nb" cx="597" cy="230" r="20"/></g>
<g id="n-b15"><circle class="nb" cx="707" cy="212" r="15"/></g>
<g id="n-b16"><circle class="nb" cx="685" cy="270" r="30"/></g>
<g id="n-b17"><circle class="nb" cx="778" cy="243" r="10"/></g>
<g id="n-b18"><circle class="nb" cx="964" cy="262" r="13"/></g>
<g id="n-b19"><circle class="nb" cx="1134" cy="247" r="10"/></g>
<g id="n-b20"><circle class="nb" cx="1092" cy="300" r="10"/></g>
<g id="n-b21"><circle class="nb" cx="924" cy="325" r="10"/></g>
<g id="n-b22"><circle class="nb" cx="406" cy="226" r="10"/></g>
<g id="n-b23"><circle class="nb" cx="388" cy="312" r="10"/></g>
<g id="n-b24"><circle class="nb" cx="461" cy="343" r="10"/></g>
<g id="n-b25"><circle class="nb" cx="548" cy="336" r="17"/></g>
<g id="n-b26"><circle class="nb" cx="702" cy="350" r="15"/></g>
<g id="n-b27"><circle class="nb" cx="778" cy="367" r="12"/></g>
<g id="n-b28"><circle class="nb" cx="596" cy="444" r="22"/></g>
<g id="n-b29"><circle class="nb" cx="926" cy="420" r="12"/></g>
<g id="n-b30"><circle class="nb" cx="880" cy="565" r="10"/></g>
<g id="n-y1"><circle class="ny" cx="492" cy="116" r="11"/></g>
<g id="n-y2"><circle class="ny" cx="488" cy="232" r="10"/></g>
<g id="n-y3"><circle class="ny" cx="521" cy="414" r="28"/></g>
<g id="n-y4"><circle class="ny" cx="292" cy="478" r="12"/></g>
<g id="n-y5"><circle class="ny" cx="240" cy="524" r="10"/></g>
<g id="n-y6"><circle class="ny" cx="612" cy="518" r="10"/></g>
<g id="n-y7"><circle class="ny" cx="728" cy="551" r="10"/></g>
<g id="n-y8"><circle class="ny" cx="434" cy="590" r="10"/></g>
<g id="n-y9"><circle class="ny" cx="260" cy="620" r="10"/></g>
<g id="n-y10"><circle class="ny" cx="131" cy="708" r="10"/></g>
<g id="n-y11"><circle class="ny" cx="533" cy="797" r="22"/></g>
<g id="n-y12"><circle class="ny" cx="782" cy="891" r="14"/></g>
<g id="n-y13"><circle class="ny" cx="442" cy="940" r="16"/></g>
<g id="n-y14"><circle class="ny" cx="735" cy="625" r="14"/></g>
<g id="n-p1"><circle class="np" cx="853" cy="315" r="10"/></g>
<g id="n-p2"><circle class="np" cx="341" cy="429" r="17"/></g>
<g id="n-p3"><circle class="np" cx="459" cy="440" r="12"/></g>
<g id="n-p4"><circle class="np" cx="389" cy="457" r="10"/></g>
<g id="n-p5"><circle class="np" cx="697" cy="446" r="25"/></g>
<g id="n-p6"><circle class="np" cx="887" cy="481" r="18"/></g>
<g id="n-p7"><circle class="np" cx="789" cy="518" r="15"/></g>
<g id="n-p8"><circle class="np" cx="489" cy="600" r="28"/></g>
<g id="n-p9"><circle class="np" cx="547" cy="640" r="50"/></g>
<g id="n-p10"><circle class="np" cx="711" cy="670" r="35"/></g>
<g id="n-p11"><circle class="np" cx="325" cy="638" r="10"/></g>
<g id="n-p12"><circle class="np" cx="257" cy="720" r="12"/></g>
<g id="n-p13"><circle class="np" cx="288" cy="797" r="12"/></g>
<g id="n-p14"><circle class="np" cx="892" cy="869" r="11"/></g>
<g id="n-g1"><circle class="ng" cx="430" cy="658" r="12"/></g>
<g id="n-g6"><circle class="ng" cx="343" cy="745" r="20"/></g>
<g id="n-g7"><circle class="ng" cx="405" cy="773" r="12"/></g>
<g id="n-g8"><circle class="ng" cx="463" cy="785" r="12"/></g>
<g id="n-g2"><circle class="ng" cx="500" cy="705" r="48"/></g>
<g id="n-g4"><circle class="ng" cx="566" cy="750" r="45"/></g>
<g id="n-g36"><circle class="ng" cx="622" cy="770" r="28"/></g>
<g id="n-g3"><circle class="ng" cx="622" cy="705" r="60"/></g>
<g id="n-g9"><circle class="ng" cx="686" cy="812" r="12"/></g>
<g id="n-g10"><circle class="ng" cx="551" cy="850" r="30"/></g>
<g id="n-g11"><circle class="ng" cx="637" cy="841" r="35"/></g>
<g id="n-g12"><circle class="ng" cx="781" cy="833" r="10"/></g>
<g id="n-g13"><circle class="ng" cx="278" cy="858" r="12"/></g>
<g id="n-g14"><circle class="ng" cx="377" cy="865" r="12"/></g>
<g id="n-g15"><circle class="ng" cx="690" cy="905" r="20"/></g>
<g id="n-g16"><circle class="ng" cx="603" cy="905" r="18"/></g>
<g id="n-g17"><circle class="ng" cx="487" cy="900" r="11"/></g>
<g id="n-g18"><circle class="ng" cx="655" cy="960" r="16"/></g>
<g id="n-g19"><circle class="ng" cx="820" cy="960" r="11"/></g>
<g id="n-g20"><circle class="ng" cx="522" cy="987" r="11"/></g>
<g id="n-g21"><circle class="ng" cx="860" cy="995" r="13"/></g>
<g id="n-g22"><circle class="ng" cx="903" cy="1038" r="13"/></g>
<g id="n-g23"><circle class="ng" cx="772" cy="1022" r="12"/></g>
<g id="n-g24"><circle class="ng" cx="612" cy="1031" r="10"/></g>
<g id="n-g25"><circle class="ng" cx="375" cy="1040" r="20"/></g>
<g id="n-g26"><circle class="ng" cx="284" cy="1022" r="12"/></g>
<g id="n-g27"><circle class="ng" cx="488" cy="1060" r="10"/></g>
<g id="n-g28"><circle class="ng" cx="713" cy="1085" r="15"/></g>
<g id="n-g29"><circle class="ng" cx="574" cy="1076" r="12"/></g>
<g id="n-g30"><circle class="ng" cx="898" cy="1097" r="17"/></g>
<g id="n-g31"><circle class="ng" cx="358" cy="1161" r="11"/></g>
<g id="n-g32"><circle class="ng" cx="516" cy="1175" r="15"/></g>
<g id="n-g33"><circle class="ng" cx="428" cy="1188" r="11"/></g>
<g id="n-g34"><circle class="ng" cx="736" cy="1193" r="14"/></g>
<g id="n-g35"><circle class="ng" cx="806" cy="772" r="9"/></g>
<g id="n-c1"><circle class="nc" cx="323" cy="356" r="10"/></g>
<g id="n-c2"><circle class="nc" cx="617" cy="322" r="10"/></g>
<g id="n-c3"><circle class="nc" cx="160" cy="433" r="13"/></g>
<g id="n-c4"><circle class="nc" cx="787" cy="440" r="12"/></g>
<g id="n-c5"><circle class="nc" cx="406" cy="504" r="10"/></g>
<g id="n-c6"><circle class="nc" cx="692" cy="507" r="33"/></g>
<g id="n-c7"><circle class="nc" cx="560" cy="555" r="12"/></g>
<g id="n-c8"><circle class="nc" cx="330" cy="574" r="10"/></g>
<g id="n-c9"><circle class="nc" cx="633" cy="586" r="11"/></g>
<g id="n-c11"><circle class="nc" cx="704" cy="752" r="12"/></g>
<g id="n-c10"><circle class="nc" cx="819" cy="615" r="75"/></g>
</g>
<g id="labels" class="labels">
<text x="845" y="33.4" font-size="28">image recognition</text>
<text x="707" y="87.9" font-size="33">waste classification</text>
<text x="1009" y="110.6" font-size="28.5">sorting</text>
<text x="1122" y="136.4" font-size="28">humans</text>
<text x="531" y="198.2" font-size="30.5">object recognition</text>
<text x="946" y="191" font-size="30">waste sorting</text>
<text x="1193" y="252.2" font-size="30.5">industry 4.0</text>
<text x="688" y="277.4" font-size="38">deep learning</text>
<text x="964" y="270" font-size="30">algorithm</text>
<text x="925" y="329.6" font-size="28.5">algorithms</text>
<text x="1172" y="334.7" font-size="29">planning</text>
<text x="1298" y="331" font-size="30">human</text>
<text x="463" y="351.9" font-size="29.5">real-time</text>
<text x="700" y="354.9" font-size="33">automation</text>
<text x="1044" y="387.4" font-size="28">internet</text>
<text x="520" y="421.4" font-size="38">machine learning</text>
<text x="160" y="441.4" font-size="28">big data</text>
<text x="787" y="446.2" font-size="30.5">blockchain</text>
<text x="1013" y="468.3" font-size="41">recycling</text>
<text x="1282" y="434.2" font-size="30.5">covid-19</text>
<text x="296" y="488.6" font-size="28.5">learning algorithms</text>
<text x="697" y="515.6" font-size="38.5">smart waste management</text>
<text x="240" y="532.4" font-size="28">smart waste management system</text>
<text x="1177" y="555.2" font-size="40.5">circular economy</text>
<text x="328" y="580.4" font-size="28">cloud</text>
<text x="1296" y="600.4" font-size="28">plastics</text>
<text x="1469" y="595.4" font-size="28">plastic waste</text>
<text x="822" y="633.3" font-size="61">waste management</text>
<text x="262" y="629.6" font-size="28.5">machine-learning</text>
<text x="1285" y="659.9" font-size="33">domestic waste</text>
<text x="131" y="716.6" font-size="28.5">trucks</text>
<text x="626" y="719.2" font-size="54">internet of things</text>
<text x="1232" y="723.9" font-size="33">food waste</text>
<text x="806" y="780.4" font-size="28">smart waste bins</text>
<text x="1024" y="787.4" font-size="28">economics</text>
<text x="286" y="803.2" font-size="30.5">information and communication</text>
<text x="1327" y="819.2" font-size="30.5">geographic information system</text>
<text x="637" y="856" font-size="50">iot</text>
<text x="781" y="841.4" font-size="28">sensor</text>
<text x="1036" y="847.6" font-size="28.5">design</text>
<text x="271" y="868" font-size="30">waste management system</text>
<text x="1299" y="875" font-size="30">gis</text>
<text x="952" y="894.4" font-size="28">water pollution</text>
<text x="691" y="919.9" font-size="33">sensors</text>
<text x="1328" y="924.6" font-size="28.5">geographic information systems</text>
<text x="653" y="967" font-size="30">cost effectiveness</text>
<text x="965" y="1000.4" font-size="28">hazards</text>
<text x="1186" y="999" font-size="30">heavy metals</text>
<text x="775" y="1030.1" font-size="27">microcontrollers</text>
<text x="378" y="1049.9" font-size="33">garbage collection</text>
<text x="716" y="1093" font-size="30">arduino</text>
<text x="898" y="1104.2" font-size="30.5">monitoring</text>
<text x="515" y="1183.2" font-size="30.5">ultrasonic sensor</text>
</g>
</g>
</svg>
